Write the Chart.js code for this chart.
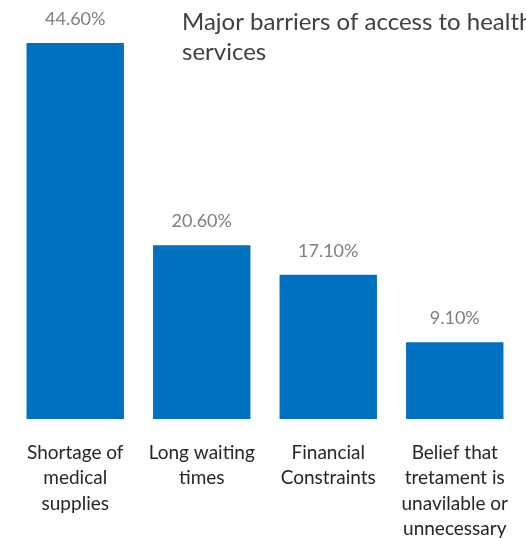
<!DOCTYPE html>
<html lang="en">
<head>
<meta charset="UTF-8">
<title>Major barriers of access to health services</title>
<style>
  body { margin: 0; background: #fff; }
  #wrap { width: 526px; height: 538px; }
</style>
</head>
<body>
<div id="wrap"><canvas id="chart" width="526" height="538"></canvas></div>
<script src="https://cdn.jsdelivr.net/npm/chart.js@4"></script>
<script>
  // data
  const categories = [
    ['Shortage of', 'medical', 'supplies'],
    ['Long waiting', 'times'],
    ['Financial', 'Constraints'],
    ['Belief that', 'tretament is', 'unavilable or', 'unnecessary']
  ];
  const shares = [44.6, 20.6, 17.1, 9.1];
  const titleLines = ['Major barriers of access to health', 'services'];

  const FONT = "Lato, 'Open Sans', sans-serif";

  // value labels above bars + title overlapping the plot, like the original
  const overlay = {
    id: 'overlay',
    afterDatasetsDraw(chart) {
      const ctx = chart.ctx;
      const meta = chart.getDatasetMeta(0);
      ctx.save();
      ctx.font = '18px ' + FONT;
      ctx.fillStyle = '#7f7f7f';
      ctx.textAlign = 'center';
      ctx.textBaseline = 'middle';
      meta.data.forEach((bar, i) => {
        ctx.fillText(shares[i].toFixed(2) + '%', bar.x, bar.y - 24);
      });
      ctx.font = '24px ' + FONT;
      ctx.fillStyle = '#404040';
      ctx.textAlign = 'left';
      ctx.textBaseline = 'middle';
      titleLines.forEach((t, i) => ctx.fillText(t, 182, 22 + i * 30));
      ctx.restore();
    }
  };

  new Chart(document.getElementById('chart'), {
    type: 'bar',
    data: {
      labels: categories,
      datasets: [{
        data: shares,
        backgroundColor: '#0070C0',
        barPercentage: 0.77,
        categoryPercentage: 1.0
      }]
    },
    options: {
      responsive: false,
      animation: false,
      layout: { padding: { top: 43, left: 12, right: 8, bottom: -17 } },
      plugins: { legend: { display: false }, tooltip: { enabled: false } },
      scales: {
        y: { display: false, min: 0, max: 44.6 },
        x: {
          grid: { display: false },
          border: { display: false },
          ticks: {
            color: '#262626',
            padding: 13,
            maxRotation: 0,
            autoSkip: false,
            font: { family: FONT, size: 19, lineHeight: 1.342 }
          }
        }
      }
    },
    plugins: [overlay]
  });
</script>
</body>
</html>
